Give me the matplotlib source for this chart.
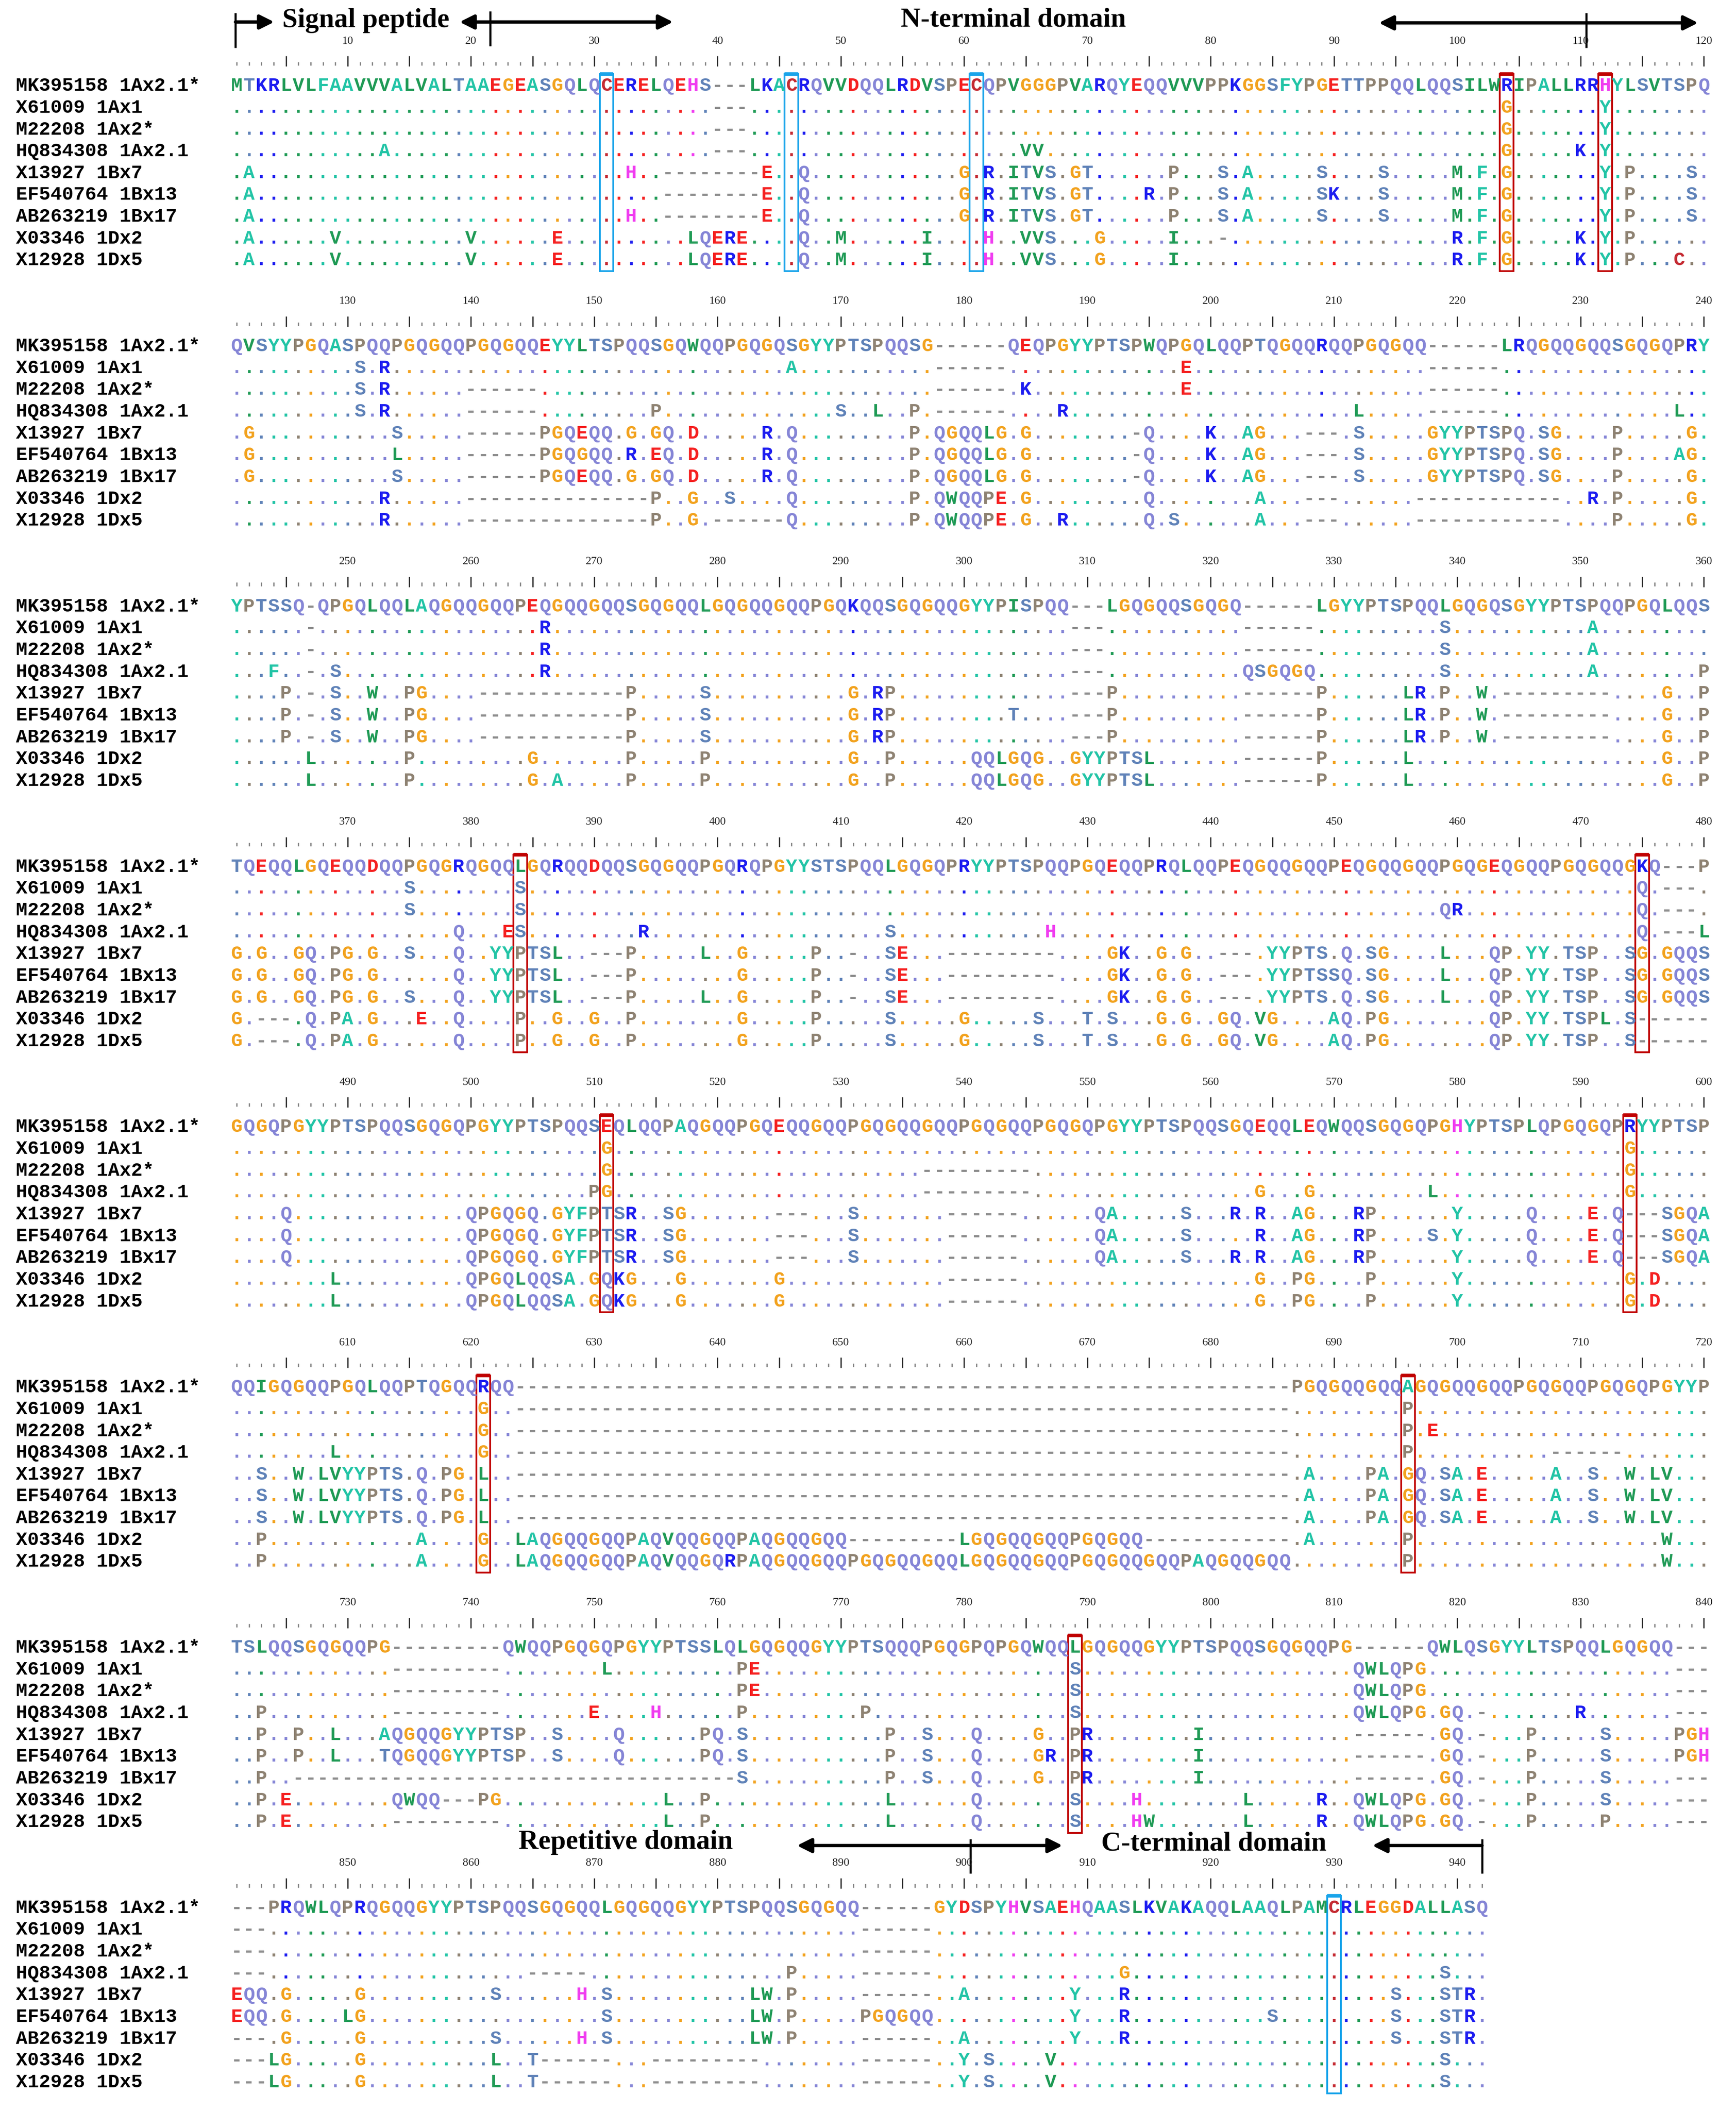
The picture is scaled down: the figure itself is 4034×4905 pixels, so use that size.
import matplotlib
matplotlib.use("Agg")
import matplotlib.pyplot as plt
from matplotlib.patches import Rectangle

# sequence names (first row is the reference sequence)
names = ["MK395158 1Ax2.1*", "X61009 1Ax1", "M22208 1Ax2*", "HQ834308 1Ax2.1",
         "X13927 1Bx7", "EF540764 1Bx13", "AB263219 1Bx17", "X03346 1Dx2", "X12928 1Dx5"]

block_starts = [1, 121, 241, 361, 481, 601, 721, 841]

# reference row of every block
consensus = [
    "MTKRLVLFAAVVVALVALTAAEGEASGQLQCERELQEHS---LKACRQVVDQQLRDVSPECQPVGGGPVARQYEQQVVVPPKGGSFYPGETTPPQQLQQSILWRIPALLRRHYLSVTSPQ",
    "QVSYYPGQASPQQPGQGQQPGQGQQEYYLTSPQQSGQWQQPGQGQSGYYPTSPQQSG------QEQPGYYPTSPWQPGQLQQPTQGQQRQQPGQGQQ------LRQGQQGQQSGQGQPRY",
    "YPTSSQ-QPGQLQQLAQGQQGQQPEQGQQGQQSGQGQQLGQGQQGQQPGQKQQSGQGQQGYYPISPQQ---LGQGQQSGQGQ------LGYYPTSPQQLGQGQSGYYPTSPQQPGQLQQS",
    "TQEQQLGQEQQDQQPGQGRQGQQLGQRQQDQQSGQGQQPGQRQPGYYSTSPQQLGQGQPRYYPTSPQQPGQEQQPRQLQQPEQGQQGQQPEQGQQGQQPGQGEQGQQPGQGQQGKQ---P",
    "GQGQPGYYPTSPQQSGQGQPGYYPTSPQQSEQLQQPAQGQQPGQEQQGQQPGQGQQGQQPGQGQQPGQGQPGYYPTSPQQSGQEQQLEQWQQSGQGQPGHYPTSPLQPGQGQPRYYPTSP",
    "QQIGQGQQPGQLQQPTQGQQRQQ" + "-" * 63 + "PGQGQQGQQAGQGQQGQQPGQGQQPGQGQPGYYP",
    "TSLQQSGQGQQPG---------QWQQPGQGQPGYYPTSSLQLGQGQQGYYPTSQQQPGQGPQPGQWQQLGQGQQGYYPTSPQQSGQGQQPG------QWLQSGYYLTSPQQLGQGQQ---",
    "---PRQWLQPRQGQQGYYPTSPQQSGQGQQLGQGQQGYYPTSPQQSGQGQQ------GYDSPYHVSAEHQAASLKVAKAQQLAAQLPAMCRLEGGDALLASQ",
]

# differences of the other 8 sequences: (alignment column in block, residues); '.' = identical
block1 = [
    [(104, "G"), (112, "Y")],
    [(104, "G"), (112, "Y")],
    [(13, "A"), (65, "VV"), (104, "G"), (110, "K.Y")],
    [(2, "A"), (33, "H"), (36, "--------E"), (47, "Q"), (60, "G.R.ITVS.GT"), (77, "P"), (81, "S.A"),
     (89, "S"), (94, "S"), (100, "M.F.G"), (112, "Y.P"), (119, "S")],
    [(2, "A"), (36, "--------E"), (47, "Q"), (60, "G.R.ITVS.GT"), (75, "R.P"), (81, "S.A"),
     (89, "SK"), (94, "S"), (100, "M.F.G"), (112, "Y.P"), (119, "S")],
    [(2, "A"), (33, "H"), (36, "--------E"), (47, "Q"), (60, "G.R.ITVS.GT"), (77, "P"), (81, "S.A"),
     (89, "S"), (94, "S"), (100, "M.F.G"), (112, "Y.P"), (119, "S")],
    [(2, "A"), (9, "V"), (20, "V"), (27, "E"), (38, "LQERE"), (47, "Q"), (50, "M"), (57, "I"), (62, "H"),
     (65, "VVS"), (71, "G"), (77, "I"), (81, "-"), (100, "R.F.G"), (110, "K.Y.P")],
    [(2, "A"), (9, "V"), (20, "V"), (27, "E"), (38, "LQERE"), (47, "Q"), (50, "M"), (57, "I"), (62, "H"),
     (65, "VVS"), (71, "G"), (77, "I"), (100, "R.F.G"), (110, "K.Y.P"), (118, "C")],
]
block2 = [
    [(11, "S.R"), (46, "A"), (78, "E")],
    [(11, "S.R"), (20, "------"), (65, "K"), (78, "E")],
    [(11, "S.R"), (20, "------"), (35, "P"), (50, "S"), (53, "L"), (56, "P"), (68, "R"), (92, "L"), (118, "L")],
    [(2, "G"), (14, "S"), (20, "------PGQEQQ.G.GQ.D"), (44, "R.Q"), (56, "P.QGQQLG.G"), (74, "-Q"), (80, "K"),
     (83, "AG"), (88, "---"), (92, "S"), (98, "GYYPTSPQ.SG"), (113, "P"), (119, "G")],
    [(2, "G"), (14, "L"), (20, "------PGQGQQ.R.EQ.D"), (44, "R.Q"), (56, "P.QGQQLG.G"), (74, "-Q"), (80, "K"),
     (83, "AG"), (88, "---"), (92, "S"), (98, "GYYPTSPQ.SG"), (113, "P"), (118, "AG")],
    [(2, "G"), (14, "S"), (20, "------PGQEQQ.G.GQ.D"), (44, "R.Q"), (56, "P.QGQQLG.G"), (74, "-Q"), (80, "K"),
     (83, "AG"), (88, "---"), (92, "S"), (98, "GYYPTSPQ.SG"), (113, "P"), (119, "G")],
    [(13, "R"), (20, "---------------P"), (38, "G"), (41, "S"), (46, "Q"), (56, "P.QWQQPE.G"), (75, "Q"),
     (84, "A"), (88, "---"), (97, "------------"), (111, "R.P"), (119, "G")],
    [(13, "R"), (20, "---------------P"), (38, "G"), (40, "------Q"), (56, "P.QWQQPE.G"), (68, "R"),
     (75, "Q.S"), (84, "A"), (88, "---"), (97, "------------"), (113, "P"), (119, "G")],
]
block3 = [
    [(26, "R"), (99, "S"), (111, "A")],
    [(26, "R"), (99, "S"), (111, "A")],
    [(4, "F"), (9, "S"), (26, "R"), (83, "QSGQGQ"), (99, "S"), (111, "A"), (120, "P")],
    [(5, "P"), (9, "S"), (12, "W"), (15, "PG"), (21, "------------P"), (39, "S"), (51, "G.RP"), (72, "P"),
     (89, "P"), (96, "LR.P"), (102, "W.---------"), (117, "G"), (120, "P")],
    [(5, "P"), (9, "S"), (12, "W"), (15, "PG"), (21, "------------P"), (39, "S"), (51, "G.RP"), (64, "T"),
     (72, "P"), (89, "P"), (96, "LR.P"), (102, "W.---------"), (117, "G"), (120, "P")],
    [(5, "P"), (9, "S"), (12, "W"), (15, "PG"), (21, "------------P"), (39, "S"), (51, "G.RP"), (72, "P"),
     (89, "P"), (96, "LR.P"), (102, "W.---------"), (117, "G"), (120, "P")],
    [(7, "L"), (15, "P"), (25, "G"), (33, "P"), (39, "P"), (51, "G"), (54, "P"), (61, "QQLGQG..GYYPTSL"),
     (89, "P"), (96, "L"), (117, "G"), (120, "P")],
    [(7, "L"), (15, "P"), (25, "G.A"), (33, "P"), (39, "P"), (51, "G"), (54, "P"), (61, "QQLGQG..GYYPTSL"),
     (89, "P"), (96, "L"), (117, "G"), (120, "P")],
]
block4 = [
    [(15, "S"), (24, "S"), (115, "Q")],
    [(15, "S"), (24, "S"), (99, "QR"), (115, "Q")],
    [(19, "Q"), (23, "ES"), (34, "R"), (54, "S"), (67, "H"), (115, "Q"), (120, "L")],
    [(1, "G.G..GQ.PG.G..S...Q..YYPTSL..---P"), (39, "L..G.....P..-..SE...---------"),
     (72, "GK..G.G..---.YYPTS.Q.SG"), (99, "L...QP.YY.TSP..SG.GQQS")],
    [(1, "G.G..GQ.PG.G......Q..YYPTSL..---P"), (42, "G.....P..-..SE...---------"),
     (72, "GK..G.G..---.YYPTSSQ.SG"), (99, "L...QP.YY.TSP..SG.GQQS")],
    [(1, "G.G..GQ.PG.G..S...Q..YYPTSL..---P"), (39, "L..G.....P..-..SE...---------"),
     (72, "GK..G.G..---.YYPTS.Q.SG"), (99, "L...QP.YY.TSP..SG.GQQS")],
    [(1, "G.---.Q.PA.G...E..Q....P..G..G..P"), (42, "G.....P.....S.....G.....S...T.S...G.G..GQ.VG....AQ.PG"),
     (103, "QP.YY.TSPL.S------")],
    [(1, "G.---.Q.PA.G......Q....P..G..G..P"), (42, "G.....P.....S.....G.....S...T.S...G.G..GQ.VG....AQ.PG"),
     (103, "QP.YY.TSP..S------")],
]
block5 = [
    [(31, "G"), (114, "G")],
    [(31, "G"), (57, "---------"), (114, "G")],
    [(30, "PG"), (57, "---------"), (84, "G...G"), (98, "L"), (114, "G")],
    [(5, "Q"), (20, "QPGQGQ.GYFPTSR..SG"), (45, "---...S.......------"), (71, "QA.....S...R.R..AG...RP"),
     (100, "Y.....Q....E.Q---SGQA")],
    [(5, "Q"), (20, "QPGQGQ.GYFPTSR..SG"), (45, "---...S.......------"),
     (71, "QA.....S.....R..AG...RP....S.Y.....Q....E.Q---SGQA")],
    [(5, "Q"), (20, "QPGQGQ.GYFPTSR..SG"), (45, "---...S.......------"), (71, "QA.....S...R.R..AG...RP"),
     (100, "Y.....Q....E.Q---SGQA")],
    [(9, "L"), (20, "QPGQLQQSA.GQKG...G.......G"), (59, "------"), (84, "G..PG....P......Y.............G.D")],
    [(9, "L"), (20, "QPGQLQQSA.GQKG...G.......G"), (59, "------"), (84, "G..PG....P......Y.............G.D")],
]
block6 = [
    [(21, "G"), (96, "P")],
    [(21, "G"), (96, "P.E")],
    [(9, "L"), (21, "G"), (96, "P"), (108, "------")],
    [(3, "S..W.LVYYPTS.Q.PG.L"), (88, "A....PA.GQ.SA.E.....A..S..W.LV")],
    [(3, "S..W.LVYYPTS.Q.PG.L"), (88, "A....PA.GQ.SA.E.....A..S..W.LV")],
    [(3, "S..W.LVYYPTS.Q.PG.L"), (88, "A....PA.GQ.SA.E.....A..S..W.LV")],
    [(3, "P"), (16, "A"), (21, "G"), (24, "LAQGQQGQQPAQVQQGQQPAQGQQGQQ"), (60, "LGQGQQGQQPGQGQQ"),
     (88, "A"), (96, "P"), (117, "W")],
    [(3, "P"), (16, "A"), (21, "G"),
     (24, "LAQGQQGQQPAQVQQGQRPAQGQQGQQPGQGQQGQQLGQGQQGQQPGQGQQGQQPAQGQQGQQ"), (96, "P"), (117, "W")],
]
block7 = [
    [(31, "L"), (42, "PE"), (69, "S"), (92, "QWLQPG")],
    [(42, "PE"), (69, "S"), (92, "QWLQPG")],
    [(3, "P"), (30, "E"), (35, "H"), (42, "P"), (52, "P"), (69, "S"), (92, "QWLQPG.GQ.-"), (110, "R")],
    [(3, "P..P..L...AQGQQGYYPTSP..S....Q......PQ.S"), (54, "P..S...Q....G..PR........I"),
     (92, "------.GQ.-...P.....S.....PGH")],
    [(3, "P..P..L...TQGQQGYYPTSP..S....Q......PQ.S"), (54, "P..S...Q....GR.PR........I"),
     (92, "------.GQ.-...P.....S.....PGH")],
    [(3, "P.." + "-" * 36 + "S"), (54, "P..S...Q....G..PR........I"), (92, "------.GQ.-...P.....S.....")],
    [(3, "P.E........QWQQ---PG"), (36, "L"), (39, "P"), (54, "L"), (61, "Q"), (69, "S"), (74, "H"), (83, "L"),
     (89, "R"), (92, "QWLQPG.GQ.-"), (106, "P"), (112, "S")],
    [(3, "P.E"), (36, "L"), (39, "P"), (54, "L"), (61, "Q"), (69, "S"), (74, "HW"), (83, "L"), (89, "R"),
     (92, "QWLQPG.GQ.-"), (106, "P"), (112, "P")],
]
block8 = [
    [],
    [],
    [(25, "-----"), (46, "P"), (73, "G"), (99, "S")],
    [(1, "EQQ.G"), (11, "G"), (22, "S"), (29, "H.S"), (43, "LW.P"), (60, "A"), (69, "Y"), (73, "R"), (95, "S"), (99, "STR")],
    [(1, "EQQ.G"), (10, "LG"), (31, "S"), (43, "LW.P"), (52, "PGQGQQ"), (69, "Y"), (73, "R"), (85, "S"), (95, "S"), (99, "STR")],
    [(5, "G"), (11, "G"), (22, "S"), (29, "H.S"), (43, "LW.P"), (60, "A"), (69, "Y"), (73, "R"), (95, "S"), (99, "STR")],
    [(4, "LG"), (11, "G"), (22, "L..T------...---------"), (60, "Y.S....V"), (99, "S")],
    [(4, "LG"), (11, "G"), (22, "L..T------...---------"), (60, "Y.S....V"), (99, "S")],
]
variants = [block1, block2, block3, block4, block5, block6, block7, block8]

# boxed columns: (block, column, kind)
boxes = [(0, 31, "c"), (0, 46, "c"), (0, 61, "c"), (0, 104, "r"), (0, 112, "r"),
         (3, 24, "r"), (3, 115, "r"), (4, 31, "r"), (4, 114, "r"),
         (5, 21, "r"), (5, 96, "r"), (6, 69, "r"), (7, 90, "c")]

res_colors = {
    "G": "#f2a21e", "P": "#8e8272", "Q": "#8585d6", "N": "#8585d6",
    "S": "#5f82b8", "T": "#5f82b8",
    "A": "#22c4a6", "F": "#22c4a6", "Y": "#22c4a6",
    "L": "#1f9a55", "V": "#1f9a55", "I": "#1f9a55", "M": "#1f9a55", "W": "#1f9a55",
    "E": "#f52020", "D": "#f52020", "K": "#1c1cf0", "R": "#1c1cf0",
    "H": "#f03cf0", "C": "#c42a32",
}
gap_color = "#8c8c8c"

# layout (pixels of the 4034 x 4905 picture)
W, H = 4034, 4905
col1_px, col_w = 550.0, 28.65
row1_px, row_h = 197.0, 50.66
block_step = 604.8 / row_h
base = 0.28

fig = plt.figure(figsize=(W / 100, H / 100), dpi=100)
ax = fig.add_axes([0, 0, 1, 1])
ax.set_xlim(1 - col1_px / col_w, 1 + (W - col1_px) / col_w)
ax.set_ylim((H - row1_px) / row_h, -row1_px / row_h)
ax.axis("off")

mono = dict(family="Liberation Mono", fontsize=32, fontweight="bold")
name_x = 1 + (37 - col1_px) / col_w


def expand(cons, segs):
    row = ["."] * len(cons)
    for start, txt in segs:
        for i, ch in enumerate(txt):
            row[start - 1 + i] = ch
    return row


for b, cons in enumerate(consensus):
    y0 = b * block_step
    rows = [list(cons)] + [expand(cons, s) for s in variants[b]]
    for r, row in enumerate(rows):
        ax.text(name_x, y0 + r + base, names[r], ha="left", va="baseline", color="black", **mono)
        for c, ch in enumerate(row, start=1):
            ref = cons[c - 1]
            if ch == ".":
                if ref == "-":
                    ch, color = "-", gap_color
                else:
                    color = res_colors.get(ref, gap_color)
            else:
                color = res_colors.get(ch, gap_color)
            ax.text(c, y0 + r + base, ch, ha="center", va="baseline", color=color, **mono)

    # ruler and position numbers
    n = len(cons)
    start = block_starts[b]
    for c in range(1, n + 1):
        pos = start + c - 1
        if pos % 5 == 0:
            ax.vlines(c, y0 - 1.32, y0 - 0.85, color="#333333", lw=2.2)
        else:
            ax.vlines(c, y0 - 1.05, y0 - 0.89, color="#888888", lw=2.2)
        if pos % 10 == 0:
            ax.text(c, y0 - 2.0, str(pos), ha="center", va="center", family="Liberation Serif",
                    fontsize=19, color="#222222")

# boxes around conserved / changed columns
for b, c, kind in boxes:
    y0 = b * block_step
    color = "#19a4ea" if kind == "c" else "#c00000"
    ax.add_patch(Rectangle((c - 0.55, y0 - 0.5), 1.1, 9.05, fill=False, edgecolor=color, lw=3))
    ax.hlines(y0 - 0.5, c - 0.55, c + 0.55, color=color, lw=6)


# domain annotations
def arrow(x_from, x_to, y):
    ax.annotate("", xy=(x_to, y), xytext=(x_from, y),
                arrowprops=dict(arrowstyle="-|>", color="black", lw=5.5, mutation_scale=50,
                                shrinkA=0, shrinkB=0))


label_font = dict(family="Liberation Serif", fontsize=46, fontweight="bold", ha="center", va="center")

# top of block 1
ax.vlines(0.90, -3.30, -1.70, color="black", lw=3.5)
arrow(0.90, 4.04, -2.88)
ax.text(11.47, -2.95, "Signal peptide", **label_font)
ax.vlines(21.56, -3.38, -1.78, color="black", lw=3.5)
arrow(21.56, 19.08, -2.88)
arrow(21.56, 36.39, -2.88)
ax.text(64.0, -2.98, "N-terminal domain", **label_font)
ax.vlines(110.46, -3.30, -1.70, color="black", lw=3.5)
arrow(110.46, 93.64, -2.84)
arrow(110.46, 119.53, -2.84)

# top of block 8
y8 = 7 * block_step
ax.text(32.55, y8 - 2.95, "Repetitive domain", **label_font)
ax.vlines(60.51, y8 - 3.11, y8 - 1.53, color="black", lw=3.5)
arrow(60.51, 46.45, y8 - 2.81)
arrow(60.51, 67.98, y8 - 2.81)
ax.text(80.27, y8 - 2.88, "C-terminal domain", **label_font)
ax.vlines(102.01, y8 - 3.11, y8 - 1.53, color="black", lw=3.5)
arrow(102.01, 93.11, y8 - 2.81)

fig.savefig("out.png", dpi=100, facecolor="white")
